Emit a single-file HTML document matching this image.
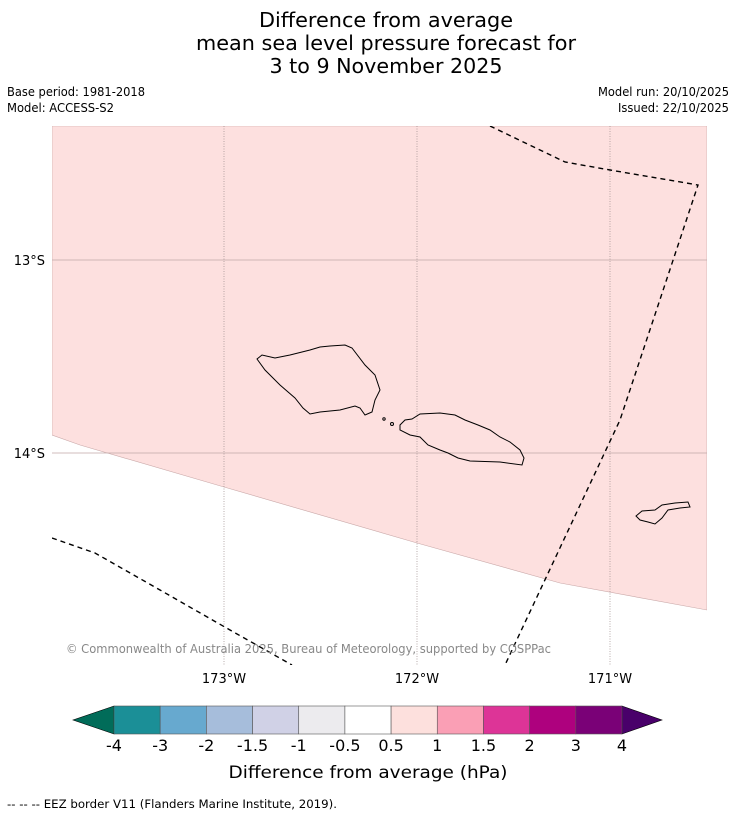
<!DOCTYPE html>
<html><head><meta charset="utf-8"><style>
html,body{margin:0;padding:0;background:#fff;}
svg{display:block;font-family:"DejaVu Sans","Liberation Sans",sans-serif;}
</style></head><body>
<svg id="chart" width="736" height="816" viewBox="0 0 736 816" xmlns="http://www.w3.org/2000/svg">
<rect width="736" height="816" fill="#fff"/>
<g font-size="20" text-anchor="middle" fill="#000">
<text x="386" y="27" textLength="254" lengthAdjust="spacingAndGlyphs">Difference from average</text>
<text x="386" y="50" textLength="380" lengthAdjust="spacingAndGlyphs">mean sea level pressure forecast for</text>
<text x="386" y="73" textLength="233" lengthAdjust="spacingAndGlyphs">3 to 9 November 2025</text>
</g>
<g font-size="12" fill="#000">
<text x="7" y="96" textLength="138" lengthAdjust="spacingAndGlyphs">Base period: 1981-2018</text>
<text x="7" y="112" textLength="107" lengthAdjust="spacingAndGlyphs">Model: ACCESS-S2</text>
<text x="729" y="96" text-anchor="end" textLength="131" lengthAdjust="spacingAndGlyphs">Model run: 20/10/2025</text>
<text x="729" y="112" text-anchor="end" textLength="111" lengthAdjust="spacingAndGlyphs">Issued: 22/10/2025</text>
</g>
<g id="map">
<clipPath id="mc"><rect x="52" y="126" width="655" height="539"/></clipPath>
<g clip-path="url(#mc)">
<path d="M52,126 L707,126 L707,610 L560,583 L417,543 L224,487 L80,445 L52,435 Z" fill="#fde0df" stroke="#c9a8a8" stroke-width="0.6"/>
<g stroke="#9a8a8a" stroke-width="0.7" stroke-dasharray="1,1.5">
<line x1="224" y1="126" x2="224" y2="665"/><line x1="417" y1="126" x2="417" y2="665"/><line x1="610" y1="126" x2="610" y2="665"/>
</g>
<g stroke="#c0a8a8" stroke-width="0.8">
<line x1="52" y1="260" x2="707" y2="260"/><line x1="52" y1="453" x2="707" y2="453"/>
</g>
<g fill="none" stroke="#000" stroke-width="1.4" stroke-dasharray="5,4">
<polyline points="490,126 565,162 610,170 698,185 620,420 505,665"/>
<polyline points="52,538 95,553 160,590 230,630 292,665"/>
</g>
<g fill="none" stroke="#000" stroke-width="1">
<polygon points="257,359 262,355 275,358 290,355 310,350 320,347 330,346 345,345 352,348 365,365 375,375 380,390 375,400 372,412 365,415 360,408 355,406 340,410 320,412 310,414 303,408 295,398 280,385 265,370"/>
<polygon points="400,425 405,420 412,419 420,414 440,413 455,415 465,420 478,425 490,430 500,437 510,442 520,450 524,458 522,465 500,462 470,461 458,458 448,453 440,450 428,445 420,437 410,435 400,430"/>
<circle cx="384" cy="419" r="1.2"/><circle cx="392" cy="424" r="1.5"/>
<polygon points="636,516 642,511 655,510 662,505 675,503 688,502 690,507 680,508 668,510 662,518 655,524 648,522 640,520"/>
</g>
</g>
<text x="66" y="653" font-size="12" fill="#888" textLength="485" lengthAdjust="spacingAndGlyphs">© Commonwealth of Australia 2025, Bureau of Meteorology, supported by COSPPac</text>
<g font-size="13" fill="#000" text-anchor="end">
<text x="45" y="265">13°S</text><text x="45" y="458">14°S</text>
</g>
<g font-size="13" fill="#000" text-anchor="middle">
<text x="224" y="683">173°W</text><text x="417" y="683">172°W</text><text x="610" y="683">171°W</text>
</g>
</g>
<g id="colorbar"></g>
<text x="368" y="778" font-size="17" text-anchor="middle" textLength="279" lengthAdjust="spacingAndGlyphs">Difference from average (hPa)</text>
<text x="7" y="808" font-size="11.5" textLength="330" lengthAdjust="spacingAndGlyphs">--  --  -- EEZ border V11 (Flanders Marine Institute, 2019).</text>
</svg>
<script>
const levels = ["-4","-3","-2","-1.5","-1","-0.5","0.5","1","1.5","2","3","4"];
const binColors = ["#1b8f97","#67a9cf","#a6bddb","#d0d1e6","#ecebee","#ffffff","#fde0dd","#fa9fb5","#dd3497","#ae017e","#7a0177"];
const underColor = "#016c59";
const overColor = "#49006a";
const NS = "http://www.w3.org/2000/svg";
const cb = document.getElementById('colorbar');
const x0 = 114, x1 = 622, y0 = 706, y1 = 734;
const bw = (x1 - x0) / binColors.length;
function bx(i){ return x0 + i * bw; }
function mk(tag, attrs){ const e = document.createElementNS(NS, tag); for (const k in attrs) e.setAttribute(k, attrs[k]); cb.appendChild(e); return e; }
let t = mk('polygon', {points: `${x0},${y0} ${x0},${y1} 73,${(y0+y1)/2}`, fill: underColor, stroke: '#000', 'stroke-width': 0.6});


t = mk('polygon', {points: `${x1},${y0} ${x1},${y1} 662,${(y0+y1)/2}`, fill: overColor, stroke: '#000', 'stroke-width': 0.6});


binColors.forEach((c, i) => {
  const r = mk('rect', {x: bx(i), y: y0, width: bw, height: y1 - y0, fill: c, stroke: '#555', 'stroke-width': 0.6});
  
  
});
levels.forEach((l, i) => {
  const tx = mk('text', {x: bx(i), y: 751, 'font-size': 16, 'text-anchor': 'middle'});
  tx.textContent = l;
  
  
});
</script>
</body></html>
